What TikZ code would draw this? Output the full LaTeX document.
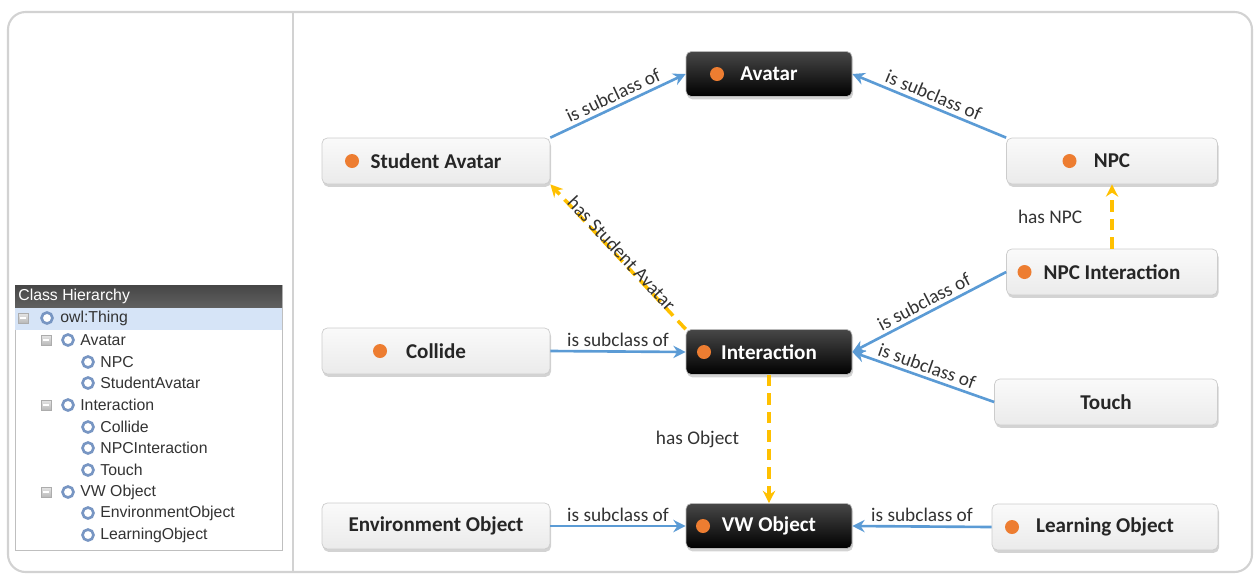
\documentclass[tikz,border=0pt]{standalone}
\usepackage{fontspec}
\setmainfont{Carlito}
\newfontfamily\treefont{Liberation Sans}
\usetikzlibrary{arrows.meta,shadows}

\definecolor{linkblue}{RGB}{91,155,213}
\definecolor{dashyellow}{RGB}{255,192,0}
\definecolor{dotorange}{RGB}{237,125,49}
\definecolor{rowblue}{RGB}{214,228,247}
\definecolor{ringblue}{RGB}{120,150,195}

\tikzset{
  cls/.style={draw=gray!40, rounded corners=3pt, top color=gray!4, bottom color=gray!16,
    minimum width=4.56cm, minimum height=0.92cm, text=black!85,
    font={\bfseries\fontsize{12}{14}\selectfont},
    drop shadow={opacity=0.35, shadow xshift=0.6pt, shadow yshift=-1.6pt}},
  topcls/.style={draw=gray!55, rounded corners=3pt, top color=black!72, bottom color=black,
    minimum width=3.32cm, minimum height=0.9cm, text=white,
    font={\bfseries\fontsize{12}{14}\selectfont},
    drop shadow={opacity=0.35, shadow xshift=0.6pt, shadow yshift=-1.6pt}},
  withdot/.style={path picture={\fill[dotorange] ([xshift=#1]path picture bounding box.west) circle (0.14cm);}},
  subof/.style={draw=linkblue, line width=1.5pt, -{Stealth[length=7pt,width=7pt]}},
  hasrel/.style={draw=dashyellow, line width=2pt, dash pattern=on 6.5pt off 4pt,
    -{Stealth[length=7pt,width=7pt]}},
  rel/.style={font=\fontsize{11}{13}\selectfont, text=black!80, inner sep=2pt},
  treetxt/.style={font=\treefont\fontsize{9}{11}\selectfont, anchor=west, inner sep=0pt, text=black!80},
  treehead/.style={font=\treefont\fontsize{9}{11}\selectfont, anchor=west, inner sep=0pt, text=white},
  ring/.style={circle, draw=ringblue, line width=1.5pt, fill=white, minimum size=0.22cm, inner sep=0pt},
  minusbox/.style={rectangle, draw=gray!65, top color=gray!20, bottom color=gray!55,
    minimum size=0.2cm, inner sep=0pt,
    path picture={\draw[white, line width=0.7pt] ([xshift=1pt]path picture bounding box.west) -- ([xshift=-1pt]path picture bounding box.east);}}
}

\begin{document}
\begin{tikzpicture}[x=0.02cm,y=-0.02cm]
\useasboundingbox (0,0) rectangle (1258,576);
\draw[gray!35, line width=1.2pt, rounded corners=10pt] (8,12) rectangle (1252,572);
\draw[gray!35, line width=0.8pt] (293,12) -- (293,572);

\draw[gray!50, fill=white] (15,285) rectangle (282,550);
\shade[top color=gray!55!black, bottom color=gray!75!black] (15,285) rectangle (282,307);
\fill[rowblue] (15,308) rectangle (282,330);
\node[treehead] (thead) at (18,296) {Class Hierarchy};
\node[minusbox] (m0) at (23,318) {};
\node[ring] (r0) at (47,318) {};
\node[treetxt] (t0) at (60,318) {owl:Thing};
\node[minusbox] (m1) at (46,340) {};
\node[ring] (r1) at (68,340) {};
\node[treetxt] (t1) at (80,340) {Avatar};
\node[ring] (r2) at (88,362) {};
\node[treetxt] (t2) at (100,362) {NPC};
\node[ring] (r3) at (88,383) {};
\node[treetxt] (t3) at (100,383) {StudentAvatar};
\node[minusbox] (m4) at (46,405) {};
\node[ring] (r4) at (68,405) {};
\node[treetxt] (t4) at (80,405) {Interaction};
\node[ring] (r5) at (88,427) {};
\node[treetxt] (t5) at (100,427) {Collide};
\node[ring] (r6) at (88,448) {};
\node[treetxt] (t6) at (100,448) {NPCInteraction};
\node[ring] (r7) at (88,470) {};
\node[treetxt] (t7) at (100,470) {Touch};
\node[minusbox] (m8) at (46,492) {};
\node[ring] (r8) at (68,492) {};
\node[treetxt] (t8) at (80,492) {VW Object};
\node[ring] (r9) at (88,513) {};
\node[treetxt] (t9) at (100,513) {EnvironmentObject};
\node[ring] (r10) at (88,535) {};
\node[treetxt] (t10) at (100,535) {LearningObject};

\node[topcls, withdot=0.62cm] (avatar) at (769,74) {Avatar};
\node[cls, withdot=0.6cm] (student) at (436,161) {Student Avatar};
\node[cls, minimum width=4.22cm, withdot=1.26cm] (npc) at (1112,161) {NPC};
\node[cls, minimum width=4.22cm, withdot=0.36cm] (npcint) at (1112,272) {NPC Interaction};
\node[cls, withdot=1.16cm] (collide) at (436,351) {Collide};
\node[topcls, withdot=0.36cm] (interaction) at (769,352) {Interaction};
\node[cls, minimum width=4.46cm] (touch) at (1106,402) {Touch};
\node[cls] (envobj) at (436,526) {Environment Object};
\node[topcls, withdot=0.34cm] (vwobj) at (769,526) {VW Object};
\node[cls, minimum width=4.52cm, withdot=0.4cm] (learnobj) at (1105,527) {Learning Object};

\draw[subof] (student.north east) -- node[rel, above, sloped] {is subclass of} (avatar.west);
\draw[subof] (npc.north west) -- node[rel, above, sloped] {is subclass of} (avatar.east);
\draw[hasrel] (npcint.north) -- node[rel, left=14pt] {has NPC} (npc.south);
\draw[hasrel] (interaction.north west) -- node[rel, sloped, above=-4pt] {has Student Avatar} (student.south east);
\draw[subof] (collide.east) -- node[rel, above] {is subclass of} (interaction.west);
\draw[subof] (npcint.west) -- node[rel, above, sloped] {is subclass of} (interaction.east);
\draw[subof] (touch.west) -- node[rel, above, sloped] {is subclass of} (interaction.east);
\draw[hasrel] (interaction.south) -- node[rel, left=14pt] {has Object} (vwobj.north);
\draw[subof] (envobj.east) -- node[rel, above] {is subclass of} (vwobj.west);
\draw[subof] (learnobj.west) -- node[rel, above] {is subclass of} (vwobj.east);
\end{tikzpicture}
\end{document}
